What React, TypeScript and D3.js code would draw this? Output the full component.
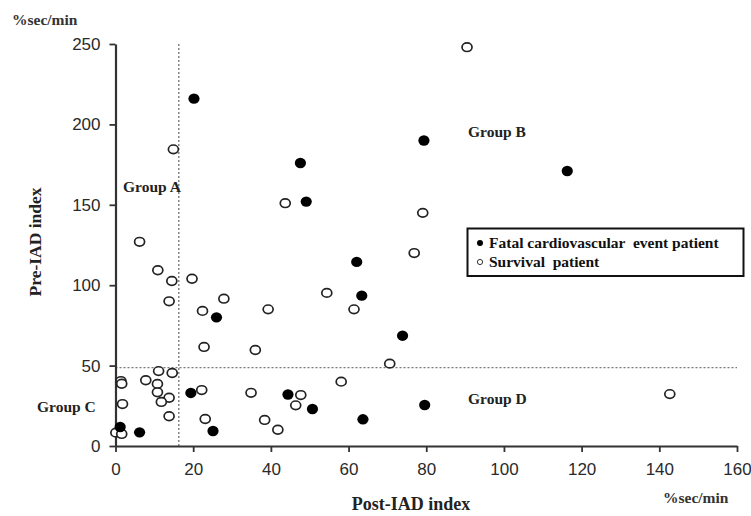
import React, { useEffect, useRef } from 'react';
import * as d3 from 'd3';

// Fatal cardiovascular event patients (filled)
const fatalX = [20.2, 47.6, 49.1, 79.4, 116.3, 62.1, 63.4, 26, 73.9, 19.4, 44.4, 50.7, 79.6, 63.7, 25.1, 6.2, 1.2];
const fatalY = [216, 176, 152, 190, 171, 114.5, 93.5, 80, 68.6, 33, 32, 23, 25.5, 16.6, 9.3, 8.5, 11.8];

// Survival patients (open)
const survivalX = [90.5, 14.9, 43.7, 79.1, 76.9, 6.2, 10.9, 14.5, 19.7, 54.4, 13.8, 27.9, 22.4, 39.3, 61.4, 22.8, 36, 70.6, 11.1, 14.6, 7.8, 1.4, 1.6, 10.8, 10.8, 22.2, 34.9, 13.8, 11.8, 1.8, 13.8, 23.1, 0.1, 1.6, 58.1, 47.7, 46.4, 38.4, 41.8, 142.7];
const survivalY = [248, 184.5, 151, 145, 120, 127, 109.3, 102.6, 104, 95.2, 90, 91.6, 84, 85, 85, 61.6, 59.7, 51.2, 46.6, 45.4, 40.9, 40.4, 38.7, 38.6, 33.4, 34.8, 33.1, 30, 27.4, 26.1, 18.5, 16.8, 8.3, 7.5, 40, 31.7, 25.3, 16.2, 10.1, 32.3];

const xTicks = [0, 20, 40, 60, 80, 100, 120, 140, 160];
const yTicks = [0, 50, 100, 150, 200, 250];

// cut-off values of the dashed lines
const postCut = 16.3;
const preCut = 48.7;

const groupLabels = ['Group A', 'Group B', 'Group C', 'Group D'];
const legendLabels = ['Fatal cardiovascular  event patient', 'Survival  patient'];

const serif = '"Liberation Serif", "Times New Roman", serif';
const sans = '"Liberation Sans", Arial, sans-serif';

const App = () => {
  const svgRef = useRef<SVGSVGElement>(null);

  useEffect(() => {
    const svg = d3.select(svgRef.current);
    svg.selectAll('*').remove();

    const x = d3.scaleLinear().domain([0, 160]).range([115.5, 737]);
    const y = d3.scaleLinear().domain([0, 250]).range([446, 44]);

    // dashed cut-off lines
    svg.append('line')
      .attr('x1', x(postCut)).attr('x2', x(postCut))
      .attr('y1', y(250)).attr('y2', y(0))
      .attr('stroke', '#666').attr('stroke-width', 1.2).attr('stroke-dasharray', '2,2');
    svg.append('line')
      .attr('x1', x(0)).attr('x2', x(160))
      .attr('y1', y(preCut)).attr('y2', y(preCut))
      .attr('stroke', '#777').attr('stroke-width', 1.2).attr('stroke-dasharray', '2,2');

    // axes
    const xAxis = svg.append('g').attr('transform', `translate(0,${y(0)})`)
      .call(d3.axisBottom(x).tickValues(xTicks).tickSize(6).tickSizeOuter(0).tickPadding(11));
    const yAxis = svg.append('g').attr('transform', `translate(${x(0)},0)`)
      .call(d3.axisLeft(y).tickValues(yTicks).tickSize(6).tickSizeOuter(0).tickPadding(9));
    [xAxis, yAxis].forEach(g => {
      g.select('.domain').attr('stroke', '#333').attr('stroke-width', 2.2);
      g.selectAll('.tick line').attr('stroke', '#333').attr('stroke-width', 1.8);
      g.selectAll('.tick text')
        .attr('font-family', sans).attr('font-size', 17).attr('fill', '#2a2a2a');
    });

    // points
    svg.append('g').selectAll('ellipse')
      .data(survivalX)
      .enter()
      .append('ellipse')
      .attr('cx', d => x(d))
      .attr('cy', (d, i) => y(survivalY[i]))
      .attr('rx', 5).attr('ry', 4.3)
      .attr('fill', 'white').attr('stroke', '#222').attr('stroke-width', 1.7);

    svg.append('g').selectAll('ellipse')
      .data(fatalX)
      .enter()
      .append('ellipse')
      .attr('cx', d => x(d))
      .attr('cy', (d, i) => y(fatalY[i]))
      .attr('rx', 5.6).attr('ry', 5.2)
      .attr('fill', '#000');

    // group labels
    const groupPos = [[123, 192], [468, 137], [37, 412], [468, 404]];
    svg.selectAll('.group-label')
      .data(groupLabels)
      .enter()
      .append('text')
      .attr('class', 'group-label')
      .attr('x', (d, i) => groupPos[i][0])
      .attr('y', (d, i) => groupPos[i][1])
      .text(d => d)
      .attr('font-family', serif).attr('font-weight', 'bold').attr('font-size', 15.5).attr('fill', '#222');

    // axis titles and units
    svg.append('text').attr('x', 411).attr('y', 510).attr('text-anchor', 'middle')
      .text('Post-IAD index')
      .attr('font-family', serif).attr('font-weight', 'bold').attr('font-size', 18).attr('fill', '#222');
    svg.append('text').attr('transform', 'translate(41,242) rotate(-90)').attr('text-anchor', 'middle')
      .text('Pre-IAD index')
      .attr('font-family', serif).attr('font-weight', 'bold').attr('font-size', 17.5).attr('fill', '#222');
    svg.append('text').attr('x', 12).attr('y', 25).text('%sec/min')
      .attr('font-family', serif).attr('font-weight', 'bold').attr('font-size', 15.5).attr('fill', '#333');
    svg.append('text').attr('x', 663).attr('y', 503).text('%sec/min')
      .attr('font-family', serif).attr('font-weight', 'bold').attr('font-size', 15.5).attr('fill', '#333');

    // legend
    const legend = svg.append('g');
    legend.append('rect')
      .attr('x', 467.5).attr('y', 228.5).attr('width', 276).attr('height', 47.5)
      .attr('fill', 'white').attr('stroke', '#111').attr('stroke-width', 2);
    legend.selectAll('circle')
      .data(legendLabels)
      .enter()
      .append('circle')
      .attr('cx', 480)
      .attr('cy', (d, i) => 243 + i * 19)
      .attr('r', (d, i) => (i === 0 ? 3 : 2.6))
      .attr('fill', (d, i) => (i === 0 ? '#000' : 'white'))
      .attr('stroke', (d, i) => (i === 0 ? 'none' : '#333'))
      .attr('stroke-width', 1);
    legend.selectAll('text')
      .data(legendLabels)
      .enter()
      .append('text')
      .attr('x', 489)
      .attr('y', (d, i) => 248 + i * 19)
      .text(d => d)
      .attr('xml:space', 'preserve')
      .style('white-space', 'pre')
      .attr('font-family', serif).attr('font-weight', 'bold').attr('font-size', 15.5).attr('fill', '#111');
  }, []);

  return (
    <svg ref={svgRef} width={751} height={516}
      style={{ position: 'absolute', left: 0, top: 0, background: 'white' }} />
  );
};

export default App;
